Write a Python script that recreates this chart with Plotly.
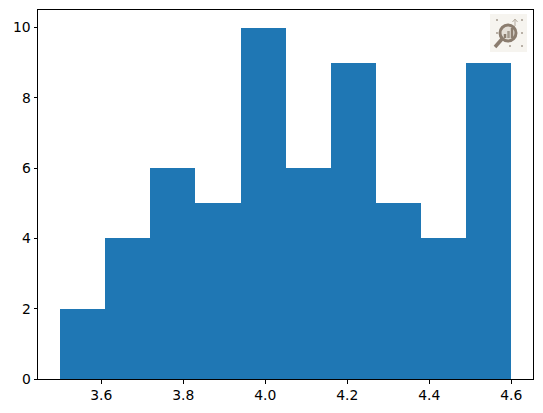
import plotly.graph_objects as go

bin_edges = [3.5, 3.61, 3.72, 3.83, 3.94, 4.05, 4.16, 4.27, 4.38, 4.49, 4.6]
counts = [2, 4, 6, 5, 10, 6, 9, 5, 4, 9]
x_ticks = [3.6, 3.8, 4.0, 4.2, 4.4, 4.6]
y_ticks = [0, 2, 4, 6, 8, 10]

W, H = 543, 413
L, R, T, B = 38, 533, 10, 379


# icon is placed in window pixels, converted to paper coords
def px_x(v):
    return (v - L) / (R - L)


def px_y(v):
    return (B - v) / (B - T)


def box(kind, x0, y0, x1, y1, **kw):
    return dict(type=kind, xref="paper", yref="paper", x0=px_x(x0), y0=px_y(y0),
                x1=px_x(x1), y1=px_y(y1), **kw)


def seg(x0, y0, x1, y1, color, width):
    return box("line", x0, y0, x1, y1, line=dict(color=color, width=width))


brown = "#8b7d6f"
shapes = [box("rect", 490, 14, 527, 52, fillcolor="#f6f4ef", line_width=0, layer="above")]
# dots round the lens
for dx, dy in [(497, 20), (522, 20), (497, 33), (522, 33), (510, 46), (522, 46)]:
    shapes.append(box("circle", dx - 1, dy - 1, dx + 1, dy + 1, fillcolor="#a39a8e", line_width=0))
shapes += [
    seg(502, 39, 495, 47, brown, 3.5),
    box("circle", 500, 25, 516, 41, fillcolor="#e4dfd7", line=dict(color=brown, width=3)),
    seg(505, 38, 505, 34, brown, 2.5),
    seg(508.5, 38, 508.5, 31, "#a39a8e", 2.5),
    seg(512, 38, 512, 28, brown, 2.5),
    seg(515, 26, 515, 20, "#c9c2b8", 1.5),
    seg(515, 19, 512.5, 22, "#b5aca0", 1),
    seg(515, 19, 517.5, 22, "#b5aca0", 1),
]

fig = go.Figure(go.Bar(
    x=bin_edges[:-1],
    y=counts,
    width=[b - a for a, b in zip(bin_edges[:-1], bin_edges[1:])],
    offset=0,
    marker=dict(color="#1f77b4", line_width=0),
    hoverinfo="skip",
))

axis_style = dict(
    showgrid=False, zeroline=False, showline=True, mirror=True,
    linecolor="black", linewidth=1, ticks="outside", ticklen=3.5,
    tickwidth=1, tickcolor="black",
)
fig.update_xaxes(range=[3.4459, 4.6532], tickvals=x_ticks,
                 ticktext=["%.1f" % t for t in x_ticks], **axis_style)
fig.update_yaxes(range=[0, 10.5], tickvals=y_ticks, **axis_style)

fig.update_layout(
    width=W, height=H, autosize=False,
    margin=dict(l=L, r=W - R, t=T, b=H - B, pad=0),
    paper_bgcolor="white", plot_bgcolor="white",
    font=dict(family="DejaVu Sans", size=13.9, color="black"),
    bargap=0, showlegend=False, shapes=shapes,
)

fig.write_html("out.html", config=dict(displayModeBar=False),
               post_script="document.body.style.margin='0';")
